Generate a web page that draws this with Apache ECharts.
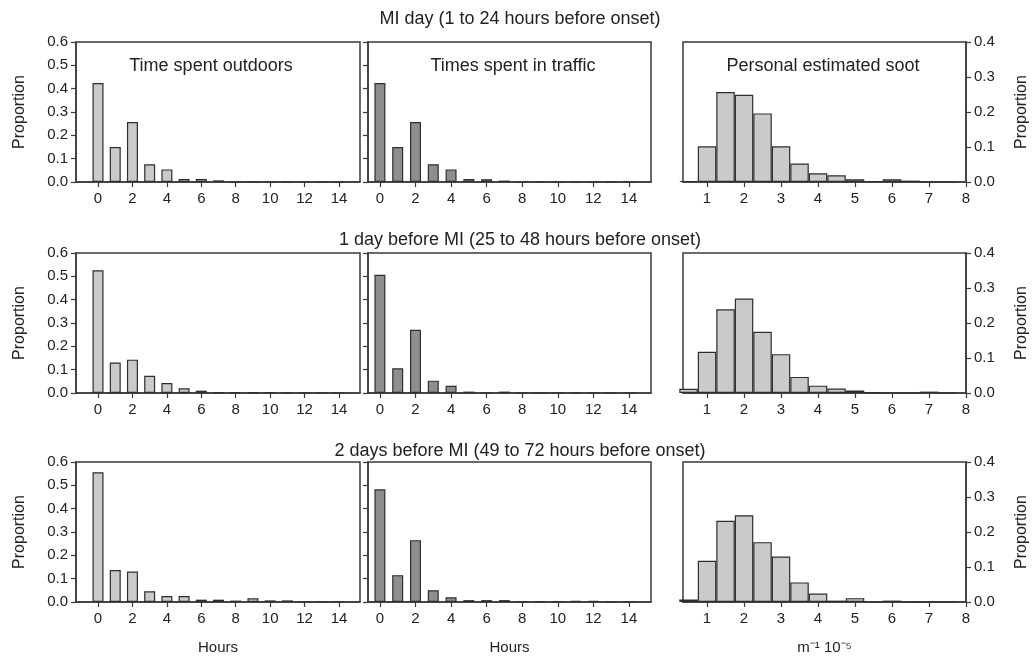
<!DOCTYPE html>
<html>
<head>
<meta charset="utf-8">
<title>Exposure distributions before MI onset</title>
<script src="https://cdn.jsdelivr.net/npm/echarts@6/dist/echarts.min.js"></script>
<style>
  html, body { margin: 0; padding: 0; background: #fff; }
  #chart { width: 1033px; height: 663px; }
</style>
</head>
<body>
<div id="chart"></div>
<script>
// bin centres
var hours = [0, 1, 2, 3, 4, 5, 6, 7, 8, 9, 10, 11, 12, 13, 14];
var sootBins = [0.5, 1, 1.5, 2, 2.5, 3, 3.5, 4, 4.5, 5, 5.5, 6, 6.5, 7, 7.5];

// MI day (1 to 24 hours before onset)
var outdoorsDay0 = [0.424, 0.150, 0.257, 0.076, 0.054, 0.013, 0.013, 0.007, 0, 0, 0, 0, 0, 0, 0];
var trafficDay0 = [0.424, 0.150, 0.257, 0.076, 0.054, 0.013, 0.012, 0.006, 0, 0, 0, 0, 0, 0, 0];
var sootDay0 = [0.003, 0.102, 0.257, 0.249, 0.196, 0.102, 0.053, 0.025, 0.019, 0.008, 0.003, 0.008, 0.004, 0, 0];

// 1 day before MI (25 to 48 hours before onset)
var outdoorsDay1 = [0.526, 0.131, 0.143, 0.074, 0.043, 0.020, 0.010, 0.004, 0.004, 0.004, 0.004, 0, 0, 0, 0];
var trafficDay1 = [0.507, 0.106, 0.271, 0.053, 0.031, 0.006, 0, 0.006, 0, 0, 0, 0, 0, 0, 0];
var sootDay1 = [0.012, 0.118, 0.239, 0.270, 0.175, 0.111, 0.046, 0.021, 0.013, 0.007, 0.002, 0, 0, 0.004, 0];

// 2 days before MI (49 to 72 hours before onset)
var outdoorsDay2 = [0.556, 0.137, 0.131, 0.046, 0.026, 0.026, 0.010, 0.010, 0.006, 0.016, 0.007, 0.007, 0, 0, 0];
var trafficDay2 = [0.483, 0.115, 0.265, 0.050, 0.020, 0.008, 0.008, 0.008, 0, 0.004, 0, 0.005, 0.005, 0, 0];
var sootDay2 = [0.007, 0.118, 0.232, 0.248, 0.171, 0.130, 0.056, 0.024, 0.004, 0.011, 0, 0.004, 0, 0, 0];

var rowTitles = [
  'MI day (1 to 24 hours before onset)',
  '1 day before MI (25 to 48 hours before onset)',
  '2 days before MI (49 to 72 hours before onset)'
];
var panelTitles = ['Time spent outdoors', 'Times spent in traffic', 'Personal estimated soot'];
var hourTicks = [0, 2, 4, 6, 8, 10, 12, 14];
var sootTicks = [1, 2, 3, 4, 5, 6, 7, 8];
var leftTicks = [0, 0.1, 0.2, 0.3, 0.4, 0.5, 0.6];
var rightTicks = [0, 0.1, 0.2, 0.3, 0.4];

var rows = [
  [outdoorsDay0, trafficDay0, sootDay0],
  [outdoorsDay1, trafficDay1, sootDay1],
  [outdoorsDay2, trafficDay2, sootDay2]
];

var FONT = '"Liberation Sans", Arial, sans-serif';
var INK = '#3a3a3a';
var cols = [
  {left: 76, width: 284, min: -1.28, max: 15.22, bins: hours, ticks: hourTicks, fill: '#cacaca', barWidth: 11},
  {left: 368, width: 283, min: -0.67, max: 15.24, bins: hours, ticks: hourTicks, fill: '#8e8e8e', barWidth: 11},
  {left: 683, width: 283, min: 0.35, max: 8, bins: sootBins, ticks: sootTicks, fill: '#cacaca', barWidth: 18.5}
];
var rowTops = [42, 253, 462];
var rowTitleTops = [5, 226, 437];
var panelTitleX = [206, 508, 818];

function pairs(xs, ys) {
  return xs.map(function(x, i) { return [x, ys[i]]; });
}

var option = {
  animation: false,
  backgroundColor: '#fff',
  textStyle: {fontFamily: FONT},
  title: [],
  grid: [],
  xAxis: [],
  yAxis: [],
  series: []
};

rowTitles.forEach(function(t, r) {
  option.title.push({
    text: t, left: 515, top: rowTitleTops[r], textAlign: 'center',
    textStyle: {fontFamily: FONT, fontSize: 18, fontWeight: 'normal', color: '#222'}
  });
});
panelTitles.forEach(function(t, c) {
  option.title.push({
    text: t, left: panelTitleX[c], top: 52, textAlign: 'center',
    textStyle: {fontFamily: FONT, fontSize: 18, fontWeight: 'normal', color: '#222'}
  });
});

rows.forEach(function(rowData, r) {
  cols.forEach(function(col, c) {
    var idx = r * 3 + c;
    var isSoot = c === 2;
    option.grid.push({
      left: col.left, top: rowTops[r], width: col.width, height: 140,
      show: true, borderColor: INK, borderWidth: 1.5, backgroundColor: 'transparent'
    });
    var xName = '';
    if (r === 2) {
      xName = isSoot ? 'm\u207B\u00B9 10\u207B\u2075' : 'Hours';
    }
    option.xAxis.push({
      type: 'value', gridIndex: idx, min: col.min, max: col.max,
      name: xName, nameLocation: 'middle', nameGap: 38,
      nameTextStyle: {fontFamily: FONT, fontSize: 15, color: '#222'},
      axisLine: {show: true, onZero: false, lineStyle: {color: INK, width: 1.5}},
      axisTick: {show: true, length: 5, customValues: col.ticks, lineStyle: {color: INK, width: 1.2}},
      axisLabel: {show: true, customValues: col.ticks, margin: 9, fontSize: 15, color: '#222', fontFamily: FONT},
      splitLine: {show: false}
    });
    option.yAxis.push({
      type: 'value', gridIndex: idx, min: 0, max: isSoot ? 0.4 : 0.6,
      position: isSoot ? 'right' : 'left',
      name: (c === 1) ? '' : 'Proportion', nameLocation: 'middle', nameGap: 48, nameRotate: 90,
      nameTextStyle: {fontFamily: FONT, fontSize: 16, color: '#222'},
      axisLine: {show: true, onZero: false, lineStyle: {color: INK, width: 1.5}},
      axisTick: {show: true, length: 5, customValues: isSoot ? rightTicks : leftTicks, lineStyle: {color: INK, width: 1.2}},
      axisLabel: {
        show: c !== 1, customValues: isSoot ? rightTicks : leftTicks, margin: 8,
        fontSize: 15, color: '#222', fontFamily: FONT,
        formatter: function(v) { return v.toFixed(1); }
      },
      splitLine: {show: false}
    });
    option.series.push({
      type: 'bar', xAxisIndex: idx, yAxisIndex: idx,
      barWidth: col.barWidth, clip: true,
      itemStyle: {color: col.fill, borderColor: '#2e2e2e', borderWidth: 1.2},
      data: pairs(col.bins, rowData[c])
    });
  });
});

var chart = echarts.init(document.getElementById('chart'), null, {renderer: 'canvas'});
chart.setOption(option);
</script>
</body>
</html>
